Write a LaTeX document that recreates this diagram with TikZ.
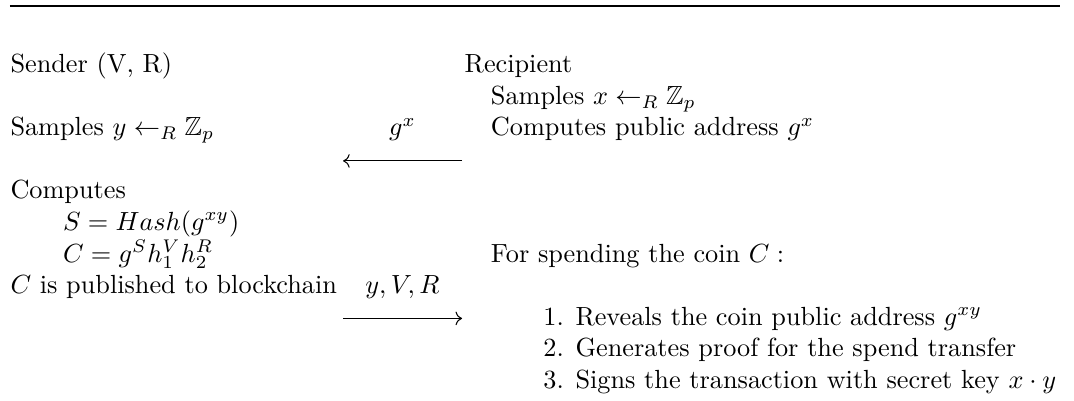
\documentclass[tikz,border=0pt]{standalone}
\usepackage{amsmath,amssymb}
\usetikzlibrary{arrows.meta}

\begin{document}
\begin{tikzpicture}[
    x=1pt, y=1pt,
    txt/.style={anchor=base west, inner sep=0pt},
    msg/.style={anchor=base, inner sep=0pt},
    arrow/.style={-{Computer Modern Rightarrow}, line width=0.4pt},
    toprule/.style={line width=0.8pt}
  ]
  \useasboundingbox (0,0) rectangle (409.1,-152.4);

  % Filetto superiore
  \coordinate (ruleL) at (3.8,-2.4);
  \coordinate (ruleR) at (403.8,-2.4);
  \draw[toprule] (ruleL) -- (ruleR);

  % Colonna mittente
  \node[txt] (sender)    at (3.8,-27.8)  {Sender (V, R)};
  \node[txt] (sampley)   at (3.8,-51.8)  {Samples $y \leftarrow_R \mathbb{Z}_p$};
  \node[txt] (computes)  at (3.8,-75.8)  {Computes};
  \node[txt] (hashS)     at (23.8,-87.8) {$S = Hash(g^{xy})$};
  \node[txt] (commitC)   at (23.8,-99.8) {$C = g^S h_1^V h_2^R$};
  \node[txt] (publish)   at (3.8,-111.8) {$C$ is published to blockchain};

  % Colonna destinatario
  \node[txt] (recipient) at (176.8,-27.8)  {Recipient};
  \node[txt] (samplex)   at (186.8,-39.8)  {Samples $x \leftarrow_R \mathbb{Z}_p$};
  \node[txt] (address)   at (186.8,-51.8)  {Computes public address $g^x$};
  \node[txt] (spend)     at (186.8,-99.8)  {For spending the coin $C:$};
  \node[txt] (reveal)    at (206.8,-123.8) {1. Reveals the coin public address $g^{xy}$};
  \node[txt] (proof)     at (206.8,-135.8) {2. Generates proof for the spend transfer};
  \node[txt] (sign)      at (206.8,-147.8) {3. Signs the transaction with secret key $x \cdot y$};

  % Messaggi
  \node[msg] (msgGx)  at (153.3,-51.8)  {$g^x$};
  \node[msg] (msgYVR) at (153.3,-111.8) {$y, V, R$};

  \coordinate (inR)  at (176.0,-61.3);
  \coordinate (inL)  at (130.7,-61.3);
  \coordinate (outL) at (130.7,-121.3);
  \coordinate (outR) at (176.0,-121.3);

  % Collegamenti
  \draw[arrow] (inR) -- (inL);
  \draw[arrow] (outL) -- (outR);

\end{tikzpicture}
\end{document}
